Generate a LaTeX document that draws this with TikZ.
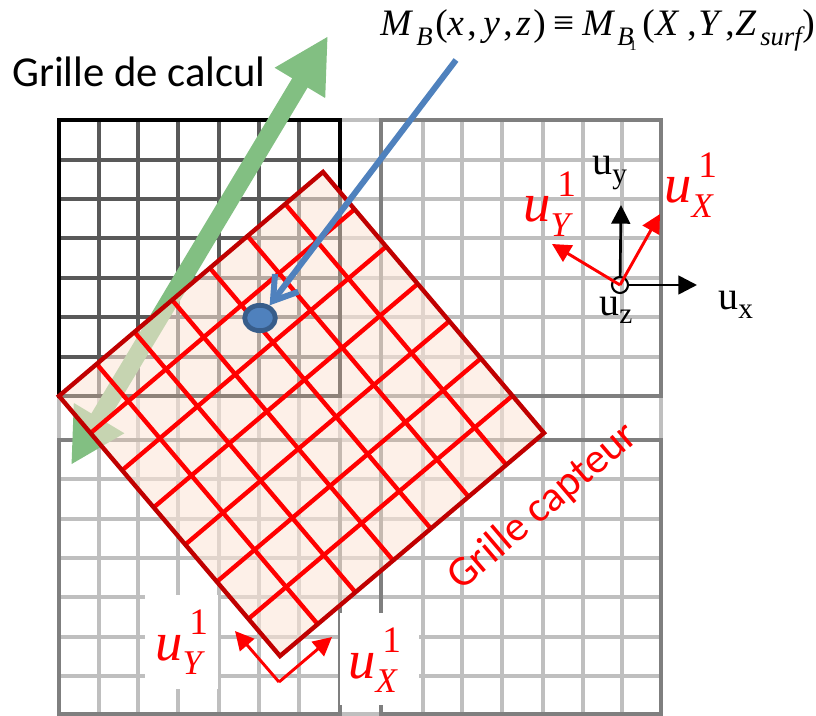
\documentclass[tikz,border=0pt]{standalone}
\usepackage{fontspec}
\setmainfont{Liberation Serif}
\newfontfamily\labelfont{Carlito}
\usetikzlibrary{arrows.meta, calc, shapes.geometric}
\definecolor{gridlight}{RGB}{191, 191, 191}
\definecolor{gridmid}{RGB}{127, 127, 127}
\definecolor{griddark}{RGB}{89, 89, 89}
\definecolor{sensorfill}{RGB}{251, 229, 214}
\definecolor{sensoredge}{RGB}{192, 0, 0}
\definecolor{pathgreen}{RGB}{130, 191, 130}
\definecolor{rayblue}{RGB}{79, 129, 189}
\definecolor{pointedge}{RGB}{56, 93, 138}
\newcommand{\fsize}[1]{\fontsize{#1}{#1}\selectfont}
\newcommand{\blackvec}[1]{{\fsize{30}u}\raisebox{-6.5pt}{\fsize{22}#1}}
\newcommand{\redvec}[1]{{\fsize{41}\textit{u}}\makebox[0pt][l]{\hspace{5pt}\raisebox{19pt}{\fsize{28}1}}\raisebox{-11pt}{\fsize{26}\textit{#1}}}
\newcommand{\subit}[1]{\raisebox{-7pt}{\fsize{20}\textit{#1}}}
% fixed advance in reference pixels
\newcommand{\adv}[2]{\makebox[\dimexpr #1pt*3/4\relax][l]{#2}}
\tikzset{
  calcline/.style={line width=3.3pt, griddark},
  lightline/.style={line width=3.3pt, gridlight},
  blockline/.style={line width=3.3pt, gridmid},
  sensorline/.style={line width=3.3pt, red},
  blackaxis/.style={line width=2pt, -{Triangle[length=14pt, width=14pt]}},
  redaxis/.style={line width=2.2pt, red, -{Triangle[length=14pt, width=14pt]}},
  textlabel/.style={inner sep=0pt, anchor=base west},
  patch/.style={fill=white, inner sep=0pt}
}

\begin{document}
\begin{tikzpicture}[x=0.75pt, y=-0.75pt]
\useasboundingbox (0,0) rectangle (816,716);
% light grid everywhere
\foreach \x in {59,99,138,178,219,259,299,340,381,423,462,502,543,583,622,661}
  \draw[lightline] (\x,120) -- (\x,714);
\foreach \y in {120,160,199,238,278,317,357,396,440,479,519,558,597,637,676,714}
  \draw[lightline] (59,\y) -- (661,\y);
% upper left block
\foreach \x in {99,138,178,219,259,299}
  \draw[calcline] (\x,120) -- (\x,396);
\foreach \y in {160,199,238,278,317,357}
  \draw[calcline] (59,\y) -- (340,\y);
\draw[line width=3.3pt, black] (59,120) rectangle (340,396);
% other blocks
\draw[blockline] (381,120) rectangle (661,396);
\draw[blockline] (59,440) rectangle (340,714);
\draw[blockline] (381,440) rectangle (661,714);
% displacement arrow
\coordinate (greenup) at (328,36);
\coordinate (greendown) at (71,465);
\draw[line width=13.5pt, pathgreen, {Triangle[length=41pt, width=41pt]}-{Triangle[length=41pt, width=41pt]}] (greendown) -- (greenup);
% sensor grid
\coordinate (gl) at (59,396);
\coordinate (gt) at (323,172);
\coordinate (gr) at (544,433);
\coordinate (gb) at (280,656);
\fill[sensorfill, fill opacity=0.57] (gl) -- (gt) -- (gr) -- (gb) -- cycle;
\foreach \i in {1,...,6} {
  \draw[sensorline] ($(gl)!\i/7!(gt)$) -- ($(gb)!\i/7!(gr)$);
  \draw[sensorline] ($(gl)!\i/7!(gb)$) -- ($(gt)!\i/7!(gr)$);
}
\draw[line width=3.3pt, sensoredge, line join=miter] (gl) -- (gt) -- (gr) -- (gb) -- cycle;
% measured point
\node[ellipse, draw=pointedge, fill=rayblue, line width=3.6pt, minimum width=23pt, minimum height=19pt, inner sep=0pt] (pt) at (260,318) {};
\coordinate (raystart) at (456,60);
\draw[line width=4.5pt, rayblue, -{Straight Barb[length=17pt, width=22pt]}] (raystart) -- (pt);
% axes
\node[circle, draw, line width=1.6pt, minimum size=12pt, inner sep=0pt] (orig) at (620,285) {};
\coordinate (uy) at (621,205);
\coordinate (ux) at (697,285);
\coordinate (rx) at (660,214);
\coordinate (ry) at (552,244);
\draw[blackaxis] (orig) -- (uy);
\draw[blackaxis] (orig) -- (ux);
\draw[redaxis] (orig.center) -- (rx);
\draw[redaxis] (orig.center) -- (ry);
% lower axes
\coordinate (lorig) at (279,682);
\coordinate (lx) at (332,637);
\coordinate (ly) at (235,631);
\draw[redaxis] (lorig) -- (lx);
\draw[redaxis] (lorig) -- (ly);
% labels
\node[patch, minimum width=54.75pt, minimum height=71pt] (patchy) at (181,642) {};
\node[patch, minimum width=59pt, minimum height=69pt] (patchx) at (379.5,659) {};
\node[textlabel, font=\labelfont\fsize{32}] (calc) at (12,87) {Grille de calcul};
\node[textlabel, font=\labelfont\fsize{32}, red, rotate=40.5] (capt) at (461,592) {Grille capteur};
\node[textlabel] (lbluy) at (592,175) {\blackvec{y}};
\node[textlabel] (lblux) at (718,310) {\blackvec{x}};
\node[textlabel] (lbluz) at (599,315) {\blackvec{z}};
\node[textlabel, red] (lblry) at (523,222) {\redvec{Y}};
\node[textlabel, red] (lblrx) at (664,203) {\redvec{X}};
\node[textlabel, red] (lblly) at (155,660) {\redvec{Y}};
\node[textlabel, red] (lbllx) at (348,678) {\redvec{X}};
\node[textlabel, font=\fsize{28}] (formula) at (380,36) {\adv{36}{\textit{M}}\adv{19}{\subit{B}}\adv{12}{(}\adv{20}{\textit{x}}\adv{16}{,}\adv{20}{\textit{y}}\adv{13}{,}\adv{17}{\textit{z}}\adv{20}{)}\adv{29}{≡}\adv{35}{\textit{M}}\adv{12}{\subit{B}}\adv{13}{\raisebox{-11pt}{\fsize{11}1}}\adv{13}{(}\adv{32}{\textit{X}}\adv{11}{,}\adv{27}{\textit{Y}}\adv{10}{,}\adv{25}{\textit{Z}}\adv{42}{\subit{surf}})};
\end{tikzpicture}
\end{document}
